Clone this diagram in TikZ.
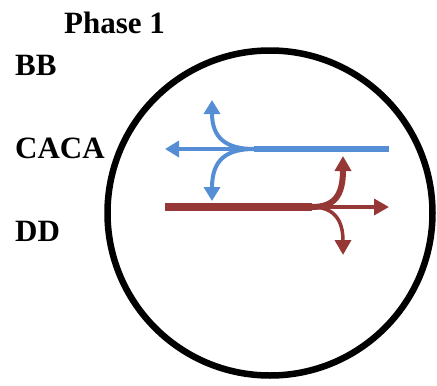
\documentclass[tikz,border=0pt]{standalone}
\usepackage{fontspec}
\setmainfont{Liberation Serif}
\usetikzlibrary{arrows.meta}
\definecolor{myblue}{RGB}{85,142,213}
\definecolor{myred}{RGB}{149,55,53}
\begin{document}
\begin{tikzpicture}[x=1pt,y=-1pt,
  lbl/.style={anchor=base west,inner sep=0pt,font=\fontsize{31}{33}\selectfont\bfseries},
  btip/.style={-{Triangle[width=16pt,length=14pt]}},
  rtip/.style={-{Triangle[width=16pt,length=15pt]}}]
\useasboundingbox (0,0) rectangle (437,386);
\node[lbl] (ph) at (64,33) {Phase 1};
\node[lbl] (bb) at (15,75) {BB};
\node[lbl] (ca) at (15,158) {CACA};
\node[lbl] (dd) at (15,241) {DD};
\draw[line width=6.5pt] (270,213) circle (162.5);
% blue
\coordinate (bj) at (254,149);
\coordinate (bR) at (389,149);
\coordinate (bL) at (165,149);
\coordinate (bU) at (212,100);
\coordinate (bD) at (212,201);
\draw[myblue,line width=6pt] (bR) -- (bj);
\draw[myblue,line width=4pt,btip] (bj) -- (bL);
\draw[myblue,line width=4pt,btip] (bj) .. controls (226,149) and (212,138) .. (bU);
\draw[myblue,line width=4pt,btip] (bj) .. controls (226,149) and (212,160) .. (bD);
% red
\coordinate (rj) at (312,207);
\coordinate (rL) at (165,207);
\coordinate (rR) at (389,207);
\coordinate (rU) at (343,156);
\coordinate (rD) at (343,255);
\draw[myred,line width=8pt] (rL) -- (rj);
\draw[myred,line width=3.5pt,rtip] (rj) -- (rR);
\draw[myred,line width=6pt,rtip] (rj) .. controls (334,207) and (343,196) .. (rU);
\draw[myred,line width=3.5pt,rtip] (rj) .. controls (334,207) and (343,220) .. (rD);
\end{tikzpicture}
\end{document}
